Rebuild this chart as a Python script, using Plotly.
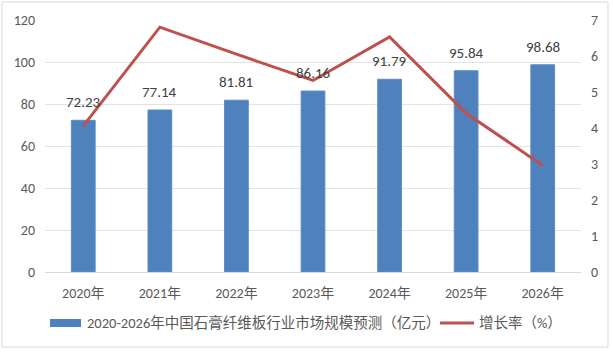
import plotly.graph_objects as go

years = ["2020年", "2021年", "2022年", "2023年", "2024年", "2025年", "2026年"]
market_size = [72.23, 77.14, 81.81, 86.16, 91.79, 95.84, 98.68]
growth_rate = [4.06, 6.80, 6.05, 5.32, 6.53, 4.41, 2.96]
bar_name = "2020-2026年中国石膏纤维板行业市场规模预测（亿元）"
line_name = "增长率（%）"

FONT = "Calibri, Carlito, 'Noto Sans CJK SC', 'Microsoft YaHei', sans-serif"
TICKC = "#595959"
BAR_C = "#4f81bd"
LINE_C = "#c0504d"

fig = go.Figure()
fig.add_trace(go.Bar(
    x=years, y=market_size, name=bar_name,
    marker=dict(color=BAR_C, line=dict(color="#5a8cc8", width=1)),
    width=0.31, showlegend=False,
))
fig.add_trace(go.Scatter(
    x=years, y=growth_rate, name=line_name, yaxis="y2",
    mode="lines", line=dict(color=LINE_C, width=3), showlegend=False,
))

annotations = [
    dict(x=yr, y=v, xref="x", yref="y", text=f"{v:.2f}", showarrow=False,
         yanchor="middle", yshift=18, font=dict(size=15, color="#404040", family=FONT))
    for yr, v in zip(years, market_size)
]

def px_x(p):
    return (p - 45) / 536

def px_y(p):
    return (272 - p) / 252

# custom legend (wide rectangle swatch like the original)
annotations += [
    dict(xref="paper", yref="paper", x=px_x(85), y=px_y(323),
         xanchor="left", yanchor="middle", text=bar_name, showarrow=False,
         font=dict(size=14.5, color=TICKC, family=FONT)),
    dict(xref="paper", yref="paper", x=px_x(477), y=px_y(323),
         xanchor="left", yanchor="middle", text=line_name, showarrow=False,
         font=dict(size=14.5, color=TICKC, family=FONT)),
]

shapes = [
    dict(type="rect", xref="paper", yref="paper",
         x0=px_x(2), x1=px_x(608), y0=px_y(347), y1=px_y(2),
         line=dict(color="#d9d9d9", width=1), fillcolor="rgba(0,0,0,0)", layer="below"),
    dict(type="rect", xref="paper", yref="paper",
         x0=px_x(50), x1=px_x(81), y0=px_y(327), y1=px_y(319),
         line=dict(width=0), fillcolor=BAR_C),
    dict(type="line", xref="paper", yref="paper",
         x0=px_x(440), x1=px_x(474), y0=px_y(323), y1=px_y(323),
         line=dict(color=LINE_C, width=3)),
]

fig.update_layout(
    width=613, height=353,
    margin=dict(l=45, r=32, t=20, b=81),
    paper_bgcolor="white", plot_bgcolor="white",
    font=dict(family=FONT, size=14, color=TICKC),
    showlegend=False,
    xaxis=dict(showgrid=False, showline=True, linecolor="#d9d9d9", linewidth=1,
               ticks="", ticklabelstandoff=8, tickfont=dict(size=14, color=TICKC)),
    yaxis=dict(range=[0, 120], dtick=20, showgrid=True, gridcolor="#e3e3e3",
               zeroline=False, showline=False, ticks="", ticklabelstandoff=9,
               tickfont=dict(size=14, color=TICKC)),
    yaxis2=dict(range=[0, 7], dtick=1, overlaying="y", side="right", showgrid=False,
                zeroline=False, showline=False, ticks="", ticklabelstandoff=9,
                tickfont=dict(size=14, color=TICKC)),
    shapes=shapes,
    annotations=annotations,
)

fig.write_html("out.html")
